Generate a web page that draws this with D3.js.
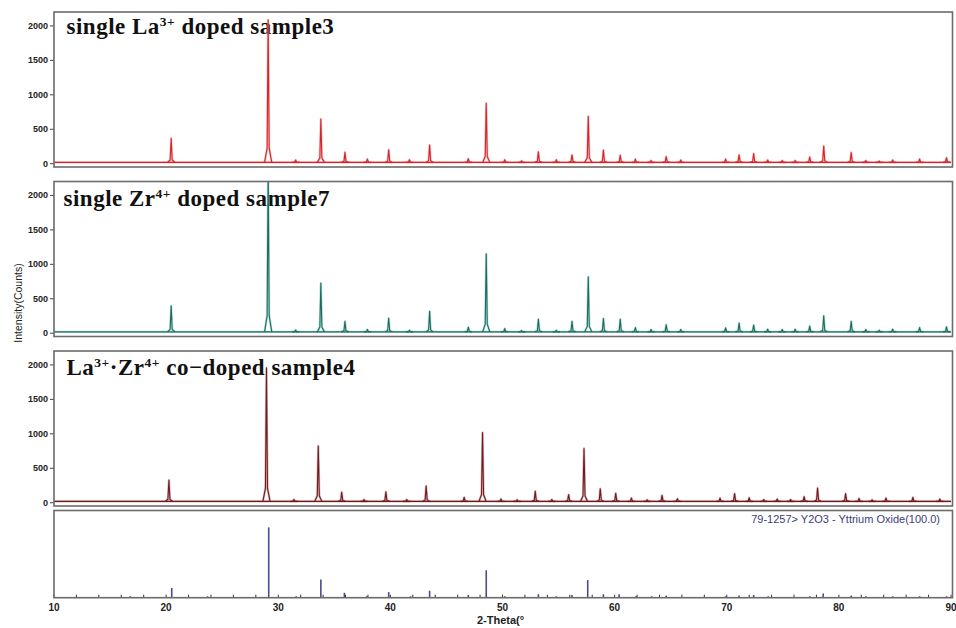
<!DOCTYPE html>
<html>
<head>
<meta charset="utf-8">
<script src="https://cdn.jsdelivr.net/npm/d3@7"></script>
<style>
  body { margin: 0; background: #fff; }
</style>
</head>
<body>
<div class="viz"></div>
<script>
// peak lists: [2-theta, counts]
var sample3Peaks = [
  [20.45, 360], [29.1, 2080], [31.55, 45], [33.8, 640], [35.95, 160], [37.95, 60],
  [39.85, 195], [41.7, 50], [43.5, 265], [46.95, 65], [48.55, 870], [50.2, 50],
  [51.7, 35], [53.2, 165], [54.8, 50], [56.2, 120], [57.65, 680], [59.0, 190],
  [60.5, 115], [61.85, 60], [63.25, 40], [64.6, 95], [65.9, 45], [69.9, 60],
  [71.1, 120], [72.4, 140], [73.65, 45], [74.95, 40], [76.1, 40], [77.4, 90],
  [78.65, 250], [81.1, 155], [82.4, 40], [83.6, 30], [84.8, 45], [87.2, 60], [89.6, 80]
]
var sample7Peaks = [
  [20.45, 390], [29.1, 2400], [31.55, 40], [33.8, 720], [35.95, 165], [37.95, 45],
  [39.85, 210], [41.7, 35], [43.5, 310], [46.95, 80], [48.55, 1145], [50.2, 60],
  [51.7, 30], [53.2, 195], [54.8, 35], [56.2, 165], [57.65, 810], [59.0, 205],
  [60.5, 195], [61.85, 75], [63.25, 45], [64.6, 115], [65.9, 45], [69.9, 70],
  [71.1, 140], [72.4, 110], [73.65, 50], [74.95, 45], [76.1, 50], [77.4, 95],
  [78.65, 245], [81.1, 165], [82.4, 45], [83.6, 35], [84.8, 50], [87.2, 75], [89.6, 85]
]
var sample4Peaks = [
  [20.25, 320], [28.95, 1950], [31.4, 40], [33.57, 815], [35.66, 145], [37.65, 40],
  [39.6, 150], [41.46, 40], [43.19, 235], [46.58, 70], [48.22, 1010], [49.86, 45],
  [51.3, 35], [52.92, 160], [54.4, 40], [55.9, 110], [57.27, 780], [58.72, 195],
  [60.1, 130], [61.5, 60], [62.9, 35], [64.23, 100], [65.6, 50], [69.4, 60],
  [70.7, 125], [72.0, 65], [73.3, 40], [74.5, 45], [75.7, 40], [76.9, 80],
  [78.1, 205], [80.6, 125], [81.8, 55], [82.96, 35], [84.2, 60], [86.6, 70], [89.0, 45]
]
var baseLevel = 12

// reference card 79-1257 Y2O3: [2-theta, relative intensity]
var refSticks = [
  [16.8, 2], [20.5, 14], [23.7, 2], [29.15, 100], [31.6, 2], [33.8, 26], [35.9, 7],
  [37.9, 2], [39.85, 8], [41.8, 2], [43.5, 10], [46.95, 4], [48.55, 39], [50.2, 2],
  [53.2, 5], [54.8, 2], [56.2, 4], [57.6, 25], [59.0, 5], [60.4, 5], [61.9, 2],
  [63.3, 2], [64.6, 3], [69.9, 2], [71.1, 3], [72.4, 4], [73.7, 2], [77.4, 2],
  [78.6, 6], [81.1, 3], [82.4, 2], [84.8, 2], [87.2, 2], [89.6, 2]
]

var yTicks = [0, 500, 1000, 1500, 2000]
var xTicks = [10, 20, 30, 40, 50, 60, 70, 80, 90]
var xMinorTicks = [10, 12, 14, 16, 18, 20, 22, 24, 26, 28, 30, 32, 34, 36, 38, 40, 42, 44, 46, 48,
  50, 52, 54, 56, 58, 60, 62, 64, 66, 68, 70, 72, 74, 76, 78, 80, 82, 84, 86, 88, 90]

var titles = [
  [["single La", 0], ["3+", 1], [" doped sample3", 0]],
  [["single Zr", 0], ["4+", 1], [" doped sample7", 0]],
  [["La", 0], ["3+", 1], ["\u00b7Zr", 0], ["4+", 1], [" co\u2212doped sample4", 0]]
]
var refLabel = "79-1257> Y2O3 - Yttrium Oxide(100.0)"

// layout
var W = 956, H = 628
var left = 54, right = 951
var panelH = 155

var svg = d3.select(".viz")
  .append("svg")
    .attr("width", W)
    .attr("height", H)
    .style("font-family", "'Liberation Sans', Arial, sans-serif")

var x = d3.scaleLinear().domain([10, 90]).range([left, right])

var panels = [
  {peaks: sample3Peaks, top: 12, core: "#d3262b", halo: "#f29a9a", title: titles[0], tx: 66.5, ty: 22},
  {peaks: sample7Peaks, top: 181.5, core: "#1e6b60", halo: "#86c9bd", title: titles[1], tx: 63.5, ty: 24},
  {peaks: sample4Peaks, top: 351, core: "#6d1c20", halo: "#c98a8a", title: titles[2], tx: 66.5, ty: 24}
]

// peak glyph around a peak top
function spike(p) {
  var pos = p[0], h = p[1], b = baseLevel
  var k = b + (h - b) * 0.1
  return [[pos - 0.32, b], [pos - 0.09, k], [pos, h], [pos + 0.09, k], [pos + 0.32, b]]
}

panels.forEach(function(pn, i) {
  var y = d3.scaleLinear().domain([-55, 2195]).range([pn.top + panelH, pn.top])
  var g = svg.append("g").attr("class", "panel-" + i)

  svg.append("clipPath").attr("id", "clip-" + i)
    .append("rect")
      .attr("x", left).attr("y", pn.top)
      .attr("width", right - left + 2).attr("height", panelH)

  // title (drawn below the pattern)
  var t = g.append("text")
    .attr("x", pn.tx)
    .attr("y", pn.top + pn.ty)
    .style("font-family", "'Liberation Serif', 'Times New Roman', serif")
    .style("font-weight", "bold")
    .style("font-size", "23px")
    .style("letter-spacing", "0.5px")
    .attr("fill", "#111")
  var shifted = false
  pn.title.forEach(function(seg) {
    var ts = t.append("tspan").text(seg[0])
    if (seg[1]) {
      ts.attr("dy", -8).style("font-size", "13.5px")
      shifted = true
    } else if (shifted) {
      ts.attr("dy", 8)
      shifted = false
    }
  })

  var line = d3.line().x(function(d) { return x(d[0]) }).y(function(d) { return y(d[1]) })
  var plot = g.append("g").attr("clip-path", "url(#clip-" + i + ")")

  ;[{c: pn.halo, w: 2.4, o: 0.6}, {c: pn.core, w: 1.1, o: 1}].forEach(function(st) {
    plot.append("path")
      .attr("d", line([[10, baseLevel], [90, baseLevel]]))
      .attr("fill", "none")
      .attr("stroke", st.c)
      .attr("stroke-width", st.w)
      .attr("opacity", st.o)
    plot.selectAll(null)
      .data(pn.peaks)
      .enter().append("path")
        .attr("d", function(d) { return line(spike(d)) })
        .attr("fill", "none")
        .attr("stroke", st.c)
        .attr("stroke-width", st.w)
        .attr("stroke-linejoin", "round")
        .attr("opacity", st.o)
  })

  // y axis
  var ax = g.append("g")
    .attr("transform", "translate(" + left + ",0)")
    .call(d3.axisLeft(y).tickValues(yTicks).tickFormat(d3.format("d")).tickSize(4).tickPadding(2))
  ax.select(".domain").remove()
  ax.selectAll("line").attr("stroke", "#444")
  ax.selectAll("text")
    .attr("fill", "#222")
    .style("font-size", "9px")
    .style("font-weight", "bold")

  // frame
  g.append("rect")
    .attr("x", left).attr("y", pn.top)
    .attr("width", right - left + 1.5).attr("height", panelH)
    .attr("fill", "none")
    .attr("stroke", "#6b6b6b")
    .attr("stroke-width", 1.6)
})

// reference pattern panel
var refTop = 510.5, refBottom = 597.7
var yr = d3.scaleLinear().domain([0, 124]).range([refBottom, refTop])
var rg = svg.append("g").attr("class", "ref-panel")

rg.selectAll("line.stick")
  .data(refSticks)
  .enter().append("line")
    .attr("class", "stick")
    .attr("x1", function(d) { return x(d[0]) })
    .attr("x2", function(d) { return x(d[0]) })
    .attr("y1", yr(0))
    .attr("y2", function(d) { return yr(d[1]) })
    .attr("stroke", "#4b4b8e")
    .attr("stroke-width", 1.6)

rg.append("text")
  .attr("x", 940)
  .attr("y", 522.5)
  .attr("text-anchor", "end")
  .attr("fill", "#3d3d7a")
  .style("font-size", "11px")
  .text(refLabel)

// x axis: minor ticks pointing inward, labels every 10
var xg = rg.append("g").attr("transform", "translate(0," + refBottom + ")")
xg.selectAll("line.minor")
  .data(xMinorTicks)
  .enter().append("line")
    .attr("class", "minor")
    .attr("x1", function(d) { return x(d) })
    .attr("x2", function(d) { return x(d) })
    .attr("y1", 0)
    .attr("y2", -3)
    .attr("stroke", "#333")
    .attr("stroke-width", 1)
xg.selectAll("text.xlab")
  .data(xTicks)
  .enter().append("text")
    .attr("class", "xlab")
    .attr("x", function(d) { return x(d) })
    .attr("y", 13.5)
    .attr("text-anchor", "middle")
    .attr("fill", "#222")
    .style("font-size", "10px")
    .style("font-weight", "bold")
    .text(function(d) { return d })

rg.append("rect")
  .attr("x", left).attr("y", refTop)
  .attr("width", right - left + 1.5).attr("height", refBottom - refTop)
  .attr("fill", "none")
  .attr("stroke", "#6b6b6b")
  .attr("stroke-width", 1.6)

// axis titles
svg.append("text")
  .attr("transform", "translate(21.5,303) rotate(-90)")
  .attr("text-anchor", "middle")
  .attr("fill", "#222")
  .style("font-size", "10.5px")
  .text("Intensity(Counts)")

svg.append("text")
  .attr("x", 477)
  .attr("y", 624)
  .attr("fill", "#222")
  .style("font-size", "11px")
  .style("font-weight", "bold")
  .text("2-Theta(\u00b0")
</script>
</body>
</html>
